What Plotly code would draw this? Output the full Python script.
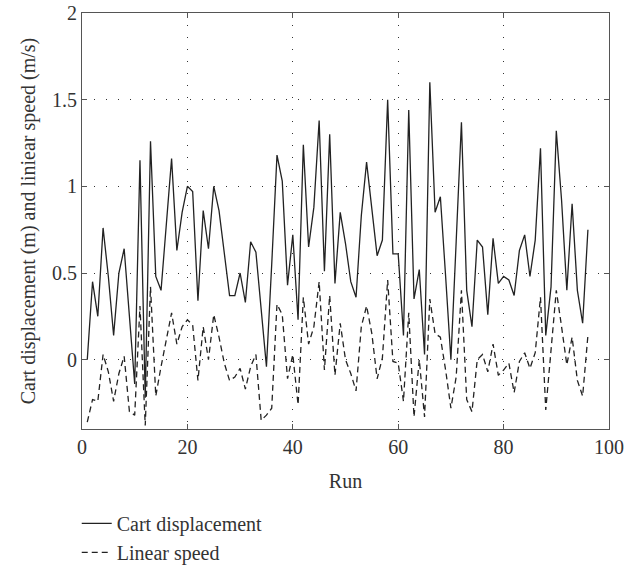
import plotly.graph_objects as go

runs = list(range(1, 97))
cart_displacement = [
    0.00, 0.45, 0.25, 0.76, 0.48, 0.14, 0.50, 0.64, 0.25, -0.14,
    1.15, -0.22, 1.26, 0.48, 0.40, 0.78, 1.16, 0.63, 0.85, 1.00,
    0.97, 0.34, 0.86, 0.64, 1.00, 0.86, 0.60, 0.37, 0.37, 0.50,
    0.33, 0.68, 0.62, 0.30, -0.04, 0.55, 1.18, 1.03, 0.43, 0.72,
    0.23, 1.24, 0.65, 0.88, 1.38, 0.51, 1.30, 0.44, 0.85, 0.67,
    0.45, 0.36, 0.83, 1.14, 0.85, 0.60, 0.69, 1.50, 0.61, 0.61,
    0.14, 1.44, 0.35, 0.52, 0.03, 1.60, 0.85, 0.94, 0.48, 0.00,
    0.68, 1.37, 0.40, 0.19, 0.69, 0.65, 0.26, 0.70, 0.44, 0.48,
    0.46, 0.37, 0.63, 0.72, 0.48, 0.69, 1.22, 0.14, 0.42, 1.32,
    0.92, 0.40, 0.90, 0.40, 0.21, 0.75,
]
linear_speed = [
    -0.36, -0.23, -0.24, 0.03, -0.07, -0.24, -0.08, 0.02, -0.30, -0.32,
    0.31, -0.38, 0.42, -0.21, -0.04, 0.11, 0.27, 0.09, 0.19, 0.23,
    0.20, -0.12, 0.19, 0.00, 0.26, 0.13, -0.02, -0.12, -0.10, -0.05,
    -0.17, -0.04, 0.03, -0.35, -0.32, -0.28, 0.32, 0.26, -0.11, 0.03,
    -0.26, 0.36, 0.09, 0.19, 0.45, -0.06, 0.37, -0.09, 0.21, 0.00,
    -0.08, -0.18, 0.19, 0.31, 0.15, -0.11, 0.01, 0.46, -0.01, -0.02,
    -0.24, 0.27, -0.33, 0.00, -0.33, 0.35, 0.15, 0.13, -0.06, -0.28,
    -0.10, 0.40, -0.23, -0.30, 0.00, 0.03, -0.07, 0.09, -0.09, -0.06,
    -0.02, -0.19, -0.01, 0.04, -0.05, 0.04, 0.36, -0.29, 0.08, 0.40,
    0.19, -0.03, 0.13, -0.12, -0.21, 0.14,
]
x_ticks = [0, 20, 40, 60, 80, 100]
y_ticks = [0, 0.5, 1, 1.5, 2]
y_tick_labels = ["0", "0.5", "1", "1.5", "2"]

FONT = "Liberation Serif"
FS = 20
INK = "#222222"
TXT = "#333333"

fig = go.Figure()
fig.add_trace(go.Scatter(x=runs, y=cart_displacement, mode="lines",
                         name="Cart displacement",
                         line=dict(color=INK, width=1.3)))
fig.add_trace(go.Scatter(x=runs, y=linear_speed, mode="lines",
                         name="Linear speed",
                         line=dict(color=INK, width=1.3, dash="6px,4px")))

axis_common = dict(
    showline=True, linecolor="#555555", linewidth=1.2, mirror="ticks",
    ticks="inside", ticklen=5, tickcolor="#555555",
    showgrid=True, gridcolor="#333333", gridwidth=1, griddash="1px,11px",
    zeroline=False, automargin=False,
    tickfont=dict(family=FONT, size=FS, color=TXT),
)

fig.update_xaxes(range=[0, 100], tickvals=x_ticks,
                 title=dict(text="Run", font=dict(family=FONT, size=FS, color=TXT), standoff=16),
                 **axis_common)
fig.update_yaxes(range=[-0.4, 2], tickvals=y_ticks, ticktext=y_tick_labels,
                 title=dict(text="Cart displacement (m) and liniear speed (m/s)",
                            font=dict(family=FONT, size=FS, color=TXT), standoff=10),
                 **axis_common)

fig.update_layout(
    width=644, height=569,
    margin=dict(l=82, r=35, t=13, b=140, autoexpand=False),
    paper_bgcolor="white", plot_bgcolor="white",
    font=dict(family=FONT, size=FS, color=TXT),
    legend=dict(x=-0.01, xanchor="left", y=-0.18, yanchor="top",
                font=dict(family=FONT, size=FS, color=TXT),
                bgcolor="rgba(0,0,0,0)", tracegroupgap=0, itemwidth=30),
    showlegend=True,
)

fig.write_html("out.html")
